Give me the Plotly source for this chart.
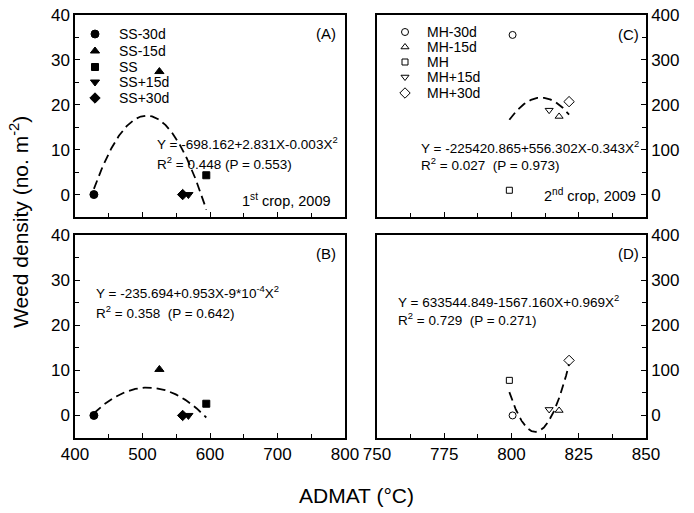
import numpy as np
import plotly.graph_objects as go

# ---------------- data ----------------
treat_1st = ["SS-30d", "SS-15d", "SS", "SS+15d", "SS+30d"]
treat_2nd = ["MH-30d", "MH-15d", "MH", "MH+15d", "MH+30d"]
admat_1st = [428, 525, 594.5, 568, 559.5]          # panels A, B (°C)
admat_2nd = [800.4, 817.7, 799.2, 814, 821.4]      # panels C, D (°C)
dens_A = [0, 27.4, 4.3, 0, 0]
dens_B = [0, 10.2, 2.6, 0, 0]
dens_C = [355.6, 174, 9.6, 188, 207]
dens_D = [0, 11, 77.8, 13.3, 122]

eq_A = ["Y = -698.162+2.831X-0.003X<sup>2</sup>", "R<sup>2</sup> = 0.448 (P = 0.553)"]
eq_B = ["Y = -235.694+0.953X-9*10<sup>-4</sup>X<sup>2</sup>", "R<sup>2</sup> = 0.358  (P = 0.642)"]
eq_C = ["Y = -225420.865+556.302X-0.343X<sup>2</sup>", "R<sup>2</sup> = 0.027  (P = 0.973)"]
eq_D = ["Y = 633544.849-1567.160X+0.969X<sup>2</sup>", "R<sup>2</sup> = 0.729  (P = 0.271)"]

# ---------------- styling ----------------
W, H = 694, 513
FONT = "Liberation Sans, Arial, sans-serif"
filled = ["circle", "triangle-up", "square", "triangle-down", "diamond"]
opened = ["circle-open", "triangle-up-open", "square-open", "triangle-down-open", "diamond-open"]
msize_f = [8, 8, 7, 8, 8]
msize_o = [7, 7, 6, 7, 8]

def px(x, y):
    return x / W, 1 - y / H

# panel boxes in pixels: (left, right, top, bottom)
boxes = {
    "A": (75, 345, 15, 217),
    "B": (75, 345, 235, 438),
    "C": (377, 646, 15, 217),
    "D": (377, 646, 235, 438),
}

fig = go.Figure()

panels = [
    ("A", "x", "y", admat_1st, dens_A, filled, msize_f),
    ("B", "x2", "y2", admat_1st, dens_B, filled, msize_f),
    ("C", "x3", "y3", admat_2nd, dens_C, opened, msize_o),
    ("D", "x4", "y4", admat_2nd, dens_D, opened, msize_o),
]

for name, xa, ya, xs, ys, syms, sizes in panels:
    coef = np.polyfit(xs, ys, 2)
    xf = np.linspace(min(xs), max(xs), 200)
    fig.add_trace(go.Scatter(x=xf, y=np.polyval(coef, xf), mode="lines",
                             line=dict(color="black", width=1.8, dash="9px,5px"),
                             xaxis=xa, yaxis=ya, showlegend=False, hoverinfo="skip"))
    for i in range(len(xs)):
        fig.add_trace(go.Scatter(x=[xs[i]], y=[ys[i]], mode="markers",
                                 marker=dict(symbol=syms[i], size=sizes[i], color="black",
                                             line=dict(color="black", width=1)),
                                 xaxis=xa, yaxis=ya, showlegend=False))

# ---------------- axes ----------------
def xaxis(box, rng, dtick, mdtick, anchor, labels):
    l, r, t, b = box
    return dict(domain=[l / W, r / W], range=rng, dtick=dtick, tick0=rng[0],
                ticks="inside", ticklen=5, tickwidth=1, tickcolor="black",
                minor=dict(dtick=mdtick, ticks="inside", ticklen=4, tickwidth=1, tickcolor="black"),
                showticklabels=labels, showgrid=False, zeroline=False, automargin=False,
                showline=True, mirror=True, linecolor="black", linewidth=1.5,
                anchor=anchor, tickfont=dict(family=FONT, size=17, color="black"))

def yaxis(box, rng, dtick, mdtick, anchor, side):
    l, r, t, b = box
    return dict(domain=[1 - b / H, 1 - t / H], range=rng, dtick=dtick, tick0=0,
                ticks="inside", ticklen=5, tickwidth=1, tickcolor="black",
                minor=dict(dtick=mdtick, ticks="inside", ticklen=4, tickwidth=1, tickcolor="black"),
                showgrid=False, zeroline=False, side=side, automargin=False,
                showline=True, mirror=True, linecolor="black", linewidth=1.5,
                anchor=anchor, tickfont=dict(family=FONT, size=17, color="black"))

fig.update_layout(
    xaxis=xaxis(boxes["A"], [400, 800], 100, 50, "y", False),
    yaxis=yaxis(boxes["A"], [-5, 40], 10, 5, "x", "left"),
    xaxis2=xaxis(boxes["B"], [400, 800], 100, 50, "y2", True),
    yaxis2=yaxis(boxes["B"], [-5, 40], 10, 5, "x2", "left"),
    xaxis3=xaxis(boxes["C"], [750, 850], 25, 12.5, "y3", False),
    yaxis3=yaxis(boxes["C"], [-50, 400], 100, 50, "x3", "right"),
    xaxis4=xaxis(boxes["D"], [750, 850], 25, 12.5, "y4", True),
    yaxis4=yaxis(boxes["D"], [-50, 400], 100, 50, "x4", "right"),
    # overlay in pixel units for the legend keys
    xaxis5=dict(domain=[0, 1], range=[0, W], visible=False, anchor="y5", fixedrange=True, automargin=False),
    yaxis5=dict(domain=[0, 1], range=[H, 0], visible=False, anchor="x5", fixedrange=True, automargin=False),
)

# ---------------- legends (drawn manually) ----------------
leg_A = dict(mx=95, tx=117, rows=[34, 51, 67, 82, 98])
leg_C = dict(mx=405, tx=425, rows=[32, 47, 62, 77, 93])
anns = []
for leg, labels, syms, sizes in [(leg_A, treat_1st, filled, msize_f), (leg_C, treat_2nd, opened, msize_o)]:
    for i, lab in enumerate(labels):
        fig.add_trace(go.Scatter(x=[leg["mx"]], y=[leg["rows"][i]], mode="markers",
                                 marker=dict(symbol=syms[i], size=sizes[i], color="black",
                                             line=dict(color="black", width=1)),
                                 xaxis="x5", yaxis="y5", showlegend=False, hoverinfo="skip"))
        x, y = px(leg["tx"], leg["rows"][i])
        anns.append(dict(x=x, y=y, xref="paper", yref="paper", text=lab, showarrow=False,
                         xanchor="left", yanchor="middle", font=dict(family=FONT, size=14, color="black")))

# ---------------- texts ----------------
def text(xp, yp, s, anchor="left", size=13.5):
    x, y = px(xp, yp)
    anns.append(dict(x=x, y=y, xref="paper", yref="paper", text=s, showarrow=False,
                     xanchor=anchor, yanchor="middle", font=dict(family=FONT, size=size, color="black")))

text(338, 33, "(A)", "right", 15)
text(338, 253, "(B)", "right", 15)
text(641, 35, "(C)", "right", 15)
text(641, 253, "(D)", "right", 15)
text(155, 143, eq_A[0]); text(155, 163, eq_A[1])
text(94, 292, eq_B[0]); text(94, 312, eq_B[1])
text(419, 147, eq_C[0]); text(419, 164, eq_C[1])
text(396, 301, eq_D[0]); text(396, 319, eq_D[1])
text(333, 200, "1<sup>st</sup> crop, 2009", "right", 14.5)
text(638, 195, "2<sup>nd</sup> crop, 2009", "right", 14.5)

x, y = px(356, 495)
anns.append(dict(x=x, y=y, xref="paper", yref="paper", text="ADMAT (°C)", showarrow=False,
                 xanchor="center", yanchor="middle", font=dict(family=FONT, size=21, color="black")))
x, y = px(19, 222)
anns.append(dict(x=x, y=y, xref="paper", yref="paper", text="Weed density (no. m<sup>-2</sup>)",
                 showarrow=False, textangle=-90, xanchor="center", yanchor="middle",
                 font=dict(family=FONT, size=21, color="black")))

fig.update_layout(width=W, height=H, margin=dict(l=0, r=0, t=0, b=0),
                  paper_bgcolor="white", plot_bgcolor="rgba(0,0,0,0)",
                  annotations=anns, showlegend=False)

fig.write_html("out.html")
